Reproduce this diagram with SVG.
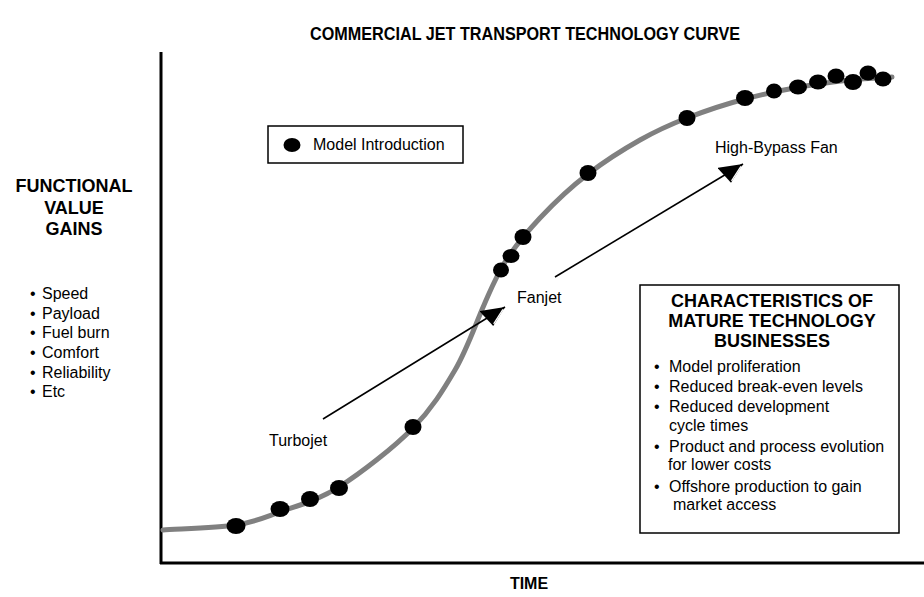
<svg xmlns="http://www.w3.org/2000/svg" width="924" height="597" viewBox="0 0 924 597">
  <style>
    text { font-family: "Liberation Sans", Arial, sans-serif; fill: #000; }
    .hd { font-weight: bold; font-size: 18px; text-anchor: middle; }
    .tx { font-size: 16px; }
    .axis { stroke: #000; stroke-width: 3; fill: none; }
    .curve { stroke: #808080; stroke-width: 5; fill: none; stroke-linecap: round; }
    .dot { fill: #000; }
    .arrow { stroke: #000; stroke-width: 1.6; fill: none; marker-end: url(#head); }
    .box { fill: #fff; stroke: #000; stroke-width: 1.5; }
  </style>
  <defs>
    <marker id="head" markerUnits="userSpaceOnUse" markerWidth="28" markerHeight="22" refX="24" refY="10" orient="auto" viewBox="0 0 28 22">
      <path d="M0,0 L24,10 L4,20 Z" fill="#000"/>
      <path d="M21,11 L5.5,18.5" stroke="#fff" stroke-width="1.3" fill="none"/>
    </marker>
  </defs>

  <rect width="924" height="597" fill="#fff"/>

  <!-- title -->
  <text id="title" x="525" y="40" class="hd" textLength="430" lengthAdjust="spacingAndGlyphs">COMMERCIAL JET TRANSPORT TECHNOLOGY CURVE</text>

  <!-- axes -->
  <g id="axes">
    <line class="axis" x1="161" y1="52" x2="161" y2="564"/>
    <line class="axis" x1="160" y1="563" x2="924" y2="563"/>
    <text x="529" y="589" class="hd" style="font-size:16px">TIME</text>
  </g>

  <!-- y-axis label -->
  <g id="y-label">
    <text x="74" y="192" class="hd">FUNCTIONAL</text>
    <text x="74" y="214" class="hd">VALUE</text>
    <text x="74" y="235" class="hd">GAINS</text>
    <text class="tx" x="30" y="299">• <tspan x="42">Speed</tspan></text>
    <text class="tx" x="30" y="319">• <tspan x="42">Payload</tspan></text>
    <text class="tx" x="30" y="338">• <tspan x="42">Fuel burn</tspan></text>
    <text class="tx" x="30" y="358">• <tspan x="42">Comfort</tspan></text>
    <text class="tx" x="30" y="378">• <tspan x="42">Reliability</tspan></text>
    <text class="tx" x="30" y="397">• <tspan x="42">Etc</tspan></text>
  </g>

  <!-- technology S-curve -->
  <g id="s-curve">
    <path class="curve" d="M163,530 C175,529 216.5,528 236,525 C255.5,522 263,518 280,512 C297,505.7 317,501 339,487 C361,473 394,447.5 413,428 C432,408.5 443,390.5 455,370 C467,349.5 476,323 484,305 C492,287 496,276.5 505,262 C514,247.5 526,233 540,218 C554,203 571,187 588,174 C605,161 623.5,149.3 640,140 C656.5,130.7 669.5,124.8 687,118 C704.5,111.2 726,104 745,99 C764,94 782.5,90 800,87 C817.5,84 835,81.7 850,80 C865,78.3 885,77.5 892,77"/>
  </g>

  <!-- model introductions -->
  <g id="models">
    <ellipse class="dot" cx="236" cy="526" rx="9.5" ry="8"/>
    <ellipse class="dot" cx="280" cy="509" rx="9.5" ry="8"/>
    <ellipse class="dot" cx="310" cy="499" rx="9" ry="8"/>
    <ellipse class="dot" cx="339" cy="488" rx="9" ry="8"/>
    <ellipse class="dot" cx="413" cy="427" rx="8.5" ry="8"/>
    <ellipse class="dot" cx="501" cy="270" rx="8" ry="7.5"/>
    <ellipse class="dot" cx="511" cy="256" rx="8.5" ry="7"/>
    <ellipse class="dot" cx="523" cy="237" rx="8.5" ry="8"/>
    <ellipse class="dot" cx="588" cy="173" rx="8.5" ry="8"/>
    <ellipse class="dot" cx="687" cy="118" rx="8.5" ry="8"/>
    <ellipse class="dot" cx="745" cy="98" rx="9" ry="8"/>
    <ellipse class="dot" cx="774" cy="91" rx="8" ry="7.5"/>
    <ellipse class="dot" cx="798" cy="87" rx="9" ry="7.5"/>
    <ellipse class="dot" cx="818" cy="82" rx="9" ry="7.5"/>
    <ellipse class="dot" cx="836" cy="76" rx="8.5" ry="7.5"/>
    <ellipse class="dot" cx="853" cy="82" rx="9" ry="8"/>
    <ellipse class="dot" cx="868" cy="73" rx="8.5" ry="7.5"/>
    <ellipse class="dot" cx="883" cy="79" rx="8.5" ry="7.5"/>
  </g>

  <!-- legend -->
  <g id="legend">
    <rect class="box" x="268" y="126" width="195" height="37"/>
    <ellipse class="dot" cx="292" cy="145" rx="8.5" ry="7"/>
    <text class="tx" x="313" y="150">Model Introduction</text>
  </g>

  <!-- transition arrows -->
  <g id="connectors">
    <line class="arrow" x1="323" y1="419" x2="505" y2="307"/>
    <line class="arrow" x1="555" y1="277" x2="743" y2="164"/>
  </g>

  <g id="turbojet"><text class="tx" x="269" y="446">Turbojet</text></g>
  <g id="fanjet"><text class="tx" x="517" y="303">Fanjet</text></g>
  <g id="high-bypass"><text class="tx" x="715" y="153">High-Bypass Fan</text></g>

  <!-- mature business characteristics -->
  <g id="characteristics">
    <rect class="box" x="640" y="285" width="259" height="248"/>
    <text x="772" y="307" class="hd">CHARACTERISTICS OF</text>
    <text x="772" y="327" class="hd">MATURE TECHNOLOGY</text>
    <text x="772" y="347" class="hd">BUSINESSES</text>
    <text class="tx" x="654" y="372">• <tspan x="669">Model proliferation</tspan></text>
    <text class="tx" x="654" y="392">• <tspan x="669">Reduced break-even levels</tspan></text>
    <text class="tx" x="654" y="412">• <tspan x="669">Reduced development</tspan></text>
    <text class="tx" x="669" y="431">cycle times</text>
    <text class="tx" x="654" y="452">• <tspan x="669">Product and process evolution</tspan></text>
    <text class="tx" x="668" y="470">for lower costs</text>
    <text class="tx" x="654" y="492">• <tspan x="669">Offshore production to gain</tspan></text>
    <text class="tx" x="673" y="510">market access</text>
  </g>
</svg>
